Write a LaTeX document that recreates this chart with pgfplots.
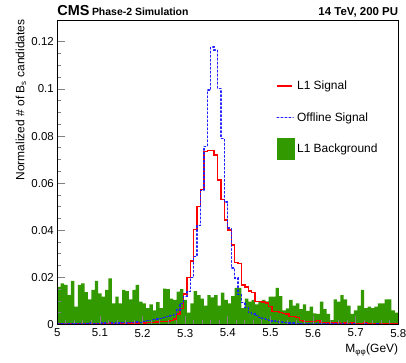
\documentclass[border=0pt]{standalone}
\usepackage{pgfplots}
\pgfplotsset{compat=1.18}
\usepackage{pgfplotstable}
\usepackage{fontspec}
\setmainfont{Liberation Sans}
\definecolor{bkggreen}{RGB}{51,153,0}
\definecolor{offblue}{RGB}{30,30,255}
\definecolor{l1red}{RGB}{255,0,0}
\pgfplotstableread{
x bkg l1 off
5.000 0.0160 0.0003 0.0004
5.008 0.0175 0.0005 0.0003
5.016 0.0168 0.0002 0.0005
5.024 0.0125 0.0004 0.0003
5.032 0.0185 0.0003 0.0002
5.040 0.0076 0.0002 0.0004
5.048 0.0168 0.0004 0.0005
5.056 0.0175 0.0003 0.0003
5.064 0.0137 0.0005 0.0004
5.072 0.0107 0.0004 0.0006
5.080 0.0147 0.0003 0.0004
5.088 0.0185 0.0005 0.0003
5.096 0.0132 0.0004 0.0005
5.104 0.0118 0.0003 0.0006
5.112 0.0147 0.0005 0.0004
5.120 0.0196 0.0006 0.0007
5.128 0.0090 0.0004 0.0005
5.136 0.0118 0.0005 0.0007
5.144 0.0090 0.0006 0.0006
5.152 0.0147 0.0005 0.0008
5.160 0.0142 0.0006 0.0007
5.168 0.0107 0.0007 0.0009
5.176 0.0147 0.0006 0.0008
5.184 0.0168 0.0007 0.0010
5.192 0.0097 0.0008 0.0009
5.200 0.0090 0.0007 0.0012
5.208 0.0070 0.0008 0.0016
5.216 0.0085 0.0009 0.0018
5.224 0.0060 0.0008 0.0022
5.232 0.0095 0.0010 0.0024
5.240 0.0070 0.0012 0.0026
5.248 0.0152 0.0012 0.0030
5.256 0.0150 0.0014 0.0034
5.264 0.0110 0.0018 0.0037
5.272 0.0105 0.0024 0.0042
5.280 0.0140 0.0045 0.0062
5.288 0.0150 0.0068 0.0090
5.296 0.0105 0.0130 0.0120
5.304 0.0050 0.0200 0.0140
5.312 0.0090 0.0270 0.0200
5.320 0.0142 0.0404 0.0290
5.328 0.0125 0.0500 0.0420
5.336 0.0110 0.0574 0.0570
5.344 0.0080 0.0735 0.0756
5.352 0.0125 0.0740 0.0995
5.360 0.0115 0.0738 0.1178
5.368 0.0125 0.0719 0.1165
5.376 0.0080 0.0613 0.1002
5.384 0.0135 0.0531 0.0790
5.392 0.0105 0.0443 0.0520
5.400 0.0090 0.0401 0.0410
5.408 0.0120 0.0337 0.0240
5.416 0.0155 0.0262 0.0198
5.424 0.0156 0.0258 0.0128
5.432 0.0070 0.0168 0.0093
5.440 0.0110 0.0160 0.0072
5.448 0.0097 0.0142 0.0050
5.456 0.0105 0.0136 0.0045
5.464 0.0085 0.0097 0.0037
5.472 0.0095 0.0097 0.0030
5.480 0.0105 0.0095 0.0025
5.488 0.0098 0.0092 0.0022
5.496 0.0118 0.0076 0.0018
5.504 0.0118 0.0055 0.0015
5.512 0.0156 0.0055 0.0012
5.520 0.0120 0.0052 0.0010
5.528 0.0060 0.0047 0.0009
5.536 0.0068 0.0045 0.0008
5.544 0.0105 0.0035 0.0007
5.552 0.0080 0.0033 0.0006
5.560 0.0090 0.0030 0.0005
5.568 0.0065 0.0016 0.0004
5.576 0.0085 0.0012 0.0004
5.584 0.0058 0.0012 0.0003
5.592 0.0076 0.0012 0.0003
5.600 0.0047 0.0012 0.0002
5.608 0.0045 0.0016 0.0003
5.616 0.0097 0.0008 0.0002
5.624 0.0065 0.0008 0.0003
5.632 0.0045 0.0007 0.0002
5.640 0.0019 0.0006 0.0002
5.648 0.0107 0.0007 0.0003
5.656 0.0097 0.0006 0.0002
5.664 0.0125 0.0005 0.0002
5.672 0.0107 0.0006 0.0001
5.680 0.0080 0.0005 0.0002
5.688 0.0045 0.0006 0.0001
5.696 0.0060 0.0005 0.0002
5.704 0.0080 0.0004 0.0001
5.712 0.0147 0.0005 0.0001
5.720 0.0070 0.0006 0.0002
5.728 0.0076 0.0005 0.0001
5.736 0.0070 0.0004 0.0001
5.744 0.0076 0.0005 0.0002
5.752 0.0090 0.0004 0.0001
5.760 0.0090 0.0005 0.0001
5.768 0.0107 0.0004 0.0001
5.776 0.0107 0.0005 0.0001
5.784 0.0060 0.0004 0.0001
5.792 0.0050 0.0005 0.0001
5.800 0.0050 0.0005 0.0001
}\datatable
\begin{document}
\begin{tikzpicture}
\path[use as bounding box] (-57.3bp,-38.5bp) rectangle (348.7bp,324.5bp);
\begin{axis}[
  at={(0,0)}, anchor=south west,
  scale only axis, width=341bp, height=303.8bp,
  xmin=5, xmax=5.8, ymin=0, ymax=0.129,
  axis on top,
  axis line style={line width=0.9bp},
  xtick={5,5.1,...,5.8}, ytick={0,0.02,...,0.12},
  minor x tick num=4, minor y tick num=3,
  tick align=inside, xtick pos=bottom, ytick pos=left,
  major tick length=8bp, minor tick length=4bp,
  tick style={line width=0.8bp},
  scaled ticks=false,
  xticklabel style={/pgf/number format/fixed, /pgf/number format/precision=1},
  yticklabel style={/pgf/number format/fixed, /pgf/number format/precision=2},
  /pgf/number format/assume math mode=true,
  ticklabel style={font=\fontsize{11.5}{13}\selectfont},
  xticklabel shift=1bp, yticklabel shift=0bp,
  legend cell align=left,
  legend style={draw=none, fill=none, at={(rel axis cs:0.642,0.822)}, anchor=north west,
    row sep=9.5bp, font=\fontsize{12}{14}\selectfont, inner sep=0pt,
    nodes={inner sep=2pt}},
]
\addplot[const plot mark left, draw=none, fill=bkggreen, forget plot] table[x=x,y=bkg]{\datatable} \closedcycle;
\addplot[const plot mark left, color=l1red, draw=l1red, line width=1.4bp, forget plot] table[x=x,y=l1]{\datatable};
\addplot[const plot mark left, color=offblue, draw=offblue, line width=1.4bp, line cap=round, dash pattern=on 1.6bp off 2.4bp, forget plot] table[x=x,y=off]{\datatable};
\addlegendimage{legend image code/.code={\path[draw=none,fill=none] (0bp,-11bp) rectangle (18bp,11bp); \draw[color=l1red, draw=l1red, line width=1.4bp] (0bp,0bp) -- (15bp,0bp);}}
\addlegendentry{L1 Signal}
\addlegendimage{legend image code/.code={\path[draw=none,fill=none] (0bp,-11bp) rectangle (18bp,11bp); \draw[color=offblue, draw=offblue, line width=1.4bp, line cap=round, dash pattern=on 1.6bp off 2.4bp] (0bp,0bp) -- (16bp,0bp);}}
\addlegendentry{Offline Signal}
\addlegendimage{legend image code/.code={\path[draw=none,fill=bkggreen] (0bp,-11bp) rectangle (18bp,11bp);}}
\addlegendentry{L1 Background}
\end{axis}
\node[anchor=base west, inner sep=0pt] at (0bp,308.5bp) {\fontsize{14.5}{16}\selectfont\bfseries CMS\,\fontsize{10.5}{12}\selectfont Phase-2 Simulation};
\node[anchor=base east, inner sep=0pt] at (341bp,308.5bp) {\fontsize{11.5}{13}\selectfont\bfseries 14 TeV, 200 PU};
\node[anchor=base east, inner sep=0pt, rotate=90] at (-33bp,305bp) {\fontsize{12}{14}\selectfont Normalized \# of B\textsubscript{s} candidates};
\node[anchor=base east, inner sep=0pt] at (341bp,-28.2bp) {\fontsize{12}{14}\selectfont M\textsubscript{φφ}(GeV)};
\end{tikzpicture}
\end{document}
